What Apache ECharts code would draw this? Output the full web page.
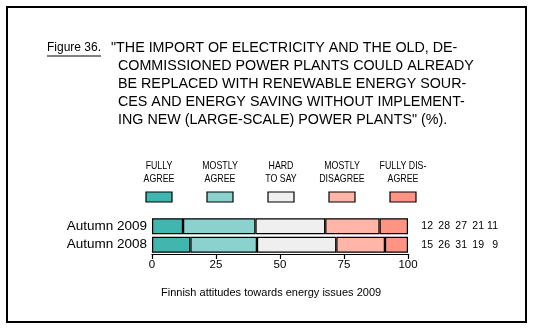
<!DOCTYPE html>
<html>
<head>
<meta charset="utf-8">
<script src="https://cdn.jsdelivr.net/npm/echarts@6/dist/echarts.min.js"></script>
<style>
  html, body { margin: 0; padding: 0; background: #fff; }
  #chart { width: 535px; height: 329px; }
</style>
</head>
<body>
<div id="chart"></div>
<script>
// Survey rows and answer shares (%)
const categories = ['Autumn 2009', 'Autumn 2008'];
const answerLabels = ['FULLY\nAGREE', 'MOSTLY\nAGREE', 'HARD\nTO SAY', 'MOSTLY\nDISAGREE', 'FULLY DIS-\nAGREE'];
const fullyAgree = [12, 15];
const mostlyAgree = [28, 26];
const hardToSay = [27, 31];
const mostlyDisagree = [21, 19];
const fullyDisagree = [11, 9];
const xTicks = [0, 25, 50, 75, 100];

const titleLines = [
  '"THE IMPORT OF ELECTRICITY AND THE OLD, DE-',
  'COMMISSIONED POWER PLANTS COULD ALREADY',
  'BE REPLACED WITH RENEWABLE ENERGY SOUR-',
  'CES AND ENERGY SAVING WITHOUT IMPLEMENT-',
  'ING NEW (LARGE-SCALE) POWER PLANTS" (%).'
];

const answerSeries = [fullyAgree, mostlyAgree, hardToSay, mostlyDisagree, fullyDisagree];
const colors = ['#40b6ae', '#8bd2cf', '#efefef', '#ffb6a8', '#ff9484'];

// Each bar spans the full 0–100 scale: shares are scaled by the row total
const rowTotals = categories.map((_, r) => answerSeries.reduce((s, a) => s + a[r], 0));
const scaled = answerSeries.map(a => a.map((v, r) => v / rowTotals[r] * 100));

const chart = echarts.init(document.getElementById('chart'), null, { renderer: 'canvas' });
const FONT = '"Liberation Sans", Arial, sans-serif';

const series = scaled.map((vals, i) => ({
  type: 'bar',
  name: answerLabels[i],
  stack: 'all',
  barWidth: 16,
  data: vals,
  itemStyle: { color: colors[i], borderColor: '#000', borderWidth: 1.2 },
  silent: true
}));

chart.setOption({
  animation: false,
  grid: { left: 152, right: 127, top: 217, height: 37 },
  xAxis: {
    type: 'value',
    min: 0, max: 100, interval: 25,
    axisLine: { show: true, lineStyle: { color: '#000', width: 1.2 } },
    axisTick: { show: true, length: 5, lineStyle: { color: '#000', width: 1.2 } },
    axisLabel: { color: '#000', fontSize: 11.5, fontFamily: FONT, margin: 5,
      formatter: v => (xTicks.includes(v) ? String(v) : '') },
    splitLine: { show: false }
  },
  yAxis: {
    type: 'category',
    data: categories,
    inverse: true,
    axisLine: { show: false },
    axisTick: { show: false },
    axisLabel: { color: '#000', fontSize: 13.5, fontFamily: FONT, margin: 5 }
  },
  series: series
});

// Decorations: frame, title, legend, value columns, footer
const g = [];
g.push({ type: 'rect', shape: { x: 7, y: 7, width: 519, height: 315 },
  style: { fill: 'none', stroke: '#000', lineWidth: 2 }, silent: true });

g.push({ type: 'text', x: 47, y: 48, style: { text: 'Figure 36.', font: '12px ' + FONT,
  fill: '#000', textVerticalAlign: 'middle' } });
g.push({ type: 'line', shape: { x1: 47, y1: 56, x2: 101, y2: 56 },
  style: { stroke: '#000', lineWidth: 1 } });
titleLines.forEach((t, i) => {
  g.push({ type: 'text', x: i === 0 ? 111 : 118, y: 48 + i * 18,
    style: { text: t, font: '14.3px ' + FONT, fill: '#000', textVerticalAlign: 'middle' } });
});

const legendX0 = 146, legendStep = 61, swW = 26, swH = 10;
answerLabels.forEach((lab, i) => {
  const x = legendX0 + i * legendStep;
  const cx = x + swW / 2;
  lab.split('\n').forEach((line, k) => {
    // narrow, centred two-line caption above each swatch
    g.push({ type: 'text', x: cx, y: 166 + k * 12.5, scaleX: 0.8, originX: 0, originY: 0,
      style: { text: line, font: '11px ' + FONT, fill: '#000',
        textAlign: 'center', textVerticalAlign: 'middle' } });
  });
  g.push({ type: 'rect', shape: { x: x, y: 192, width: swW, height: swH },
    style: { fill: colors[i], stroke: '#000', lineWidth: 1.2 } });
});

const colRight = [433, 450, 467, 484, 498];
categories.forEach((cat, r) => {
  const y = chart.convertToPixel({ yAxisIndex: 0 }, cat);
  answerSeries.forEach((a, i) => {
    g.push({ type: 'text', x: colRight[i], y: y,
      style: { text: String(a[r]), font: '10.5px ' + FONT, fill: '#000',
        textAlign: 'right', textVerticalAlign: 'middle' } });
  });
});

g.push({ type: 'text', x: 161, y: 293,
  style: { text: 'Finnish attitudes towards energy issues 2009', font: '11px ' + FONT,
    fill: '#000', textVerticalAlign: 'middle' } });

chart.setOption({ graphic: g });
</script>
</body>
</html>
